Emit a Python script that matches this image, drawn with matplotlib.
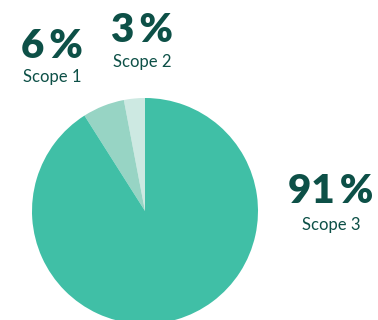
import matplotlib
matplotlib.use("Agg")
import matplotlib.pyplot as plt

# Emissões por escopo (%), na ordem em que as fatias aparecem a partir do topo
scopes = ["Scope 2", "Scope 1", "Scope 3"]
shares = [3, 6, 91]
colors = ["#CDE9E2", "#97D4C4", "#40BFA6"]
text_color = "#0D5047"

fig = plt.figure(figsize=(3.78, 3.2), dpi=100)
ax = fig.add_axes([0, 0, 1, 1])

ax.pie(shares, colors=colors, startangle=90, counterclock=True,
       center=(145, 109), radius=113, wedgeprops={"linewidth": 0})
ax.set_xlim(0, 378)
ax.set_ylim(0, 320)
ax.set_aspect("equal")
ax.axis("off")

# posição dos rótulos (x, baseline do número, baseline do nome)
label_pos = {"Scope 1": (52, 262, 238),
             "Scope 2": (142, 278, 253),
             "Scope 3": (331, 117, 90)}
for name, val in zip(scopes, shares):
    x, y_num, y_name = label_pos[name]
    ax.text(x, y_num, f"{val}\u2009%", ha="center", va="baseline", fontsize=29,
            fontweight="heavy", family=["Lato", "DejaVu Sans"], color=text_color)
    ax.text(x, y_name, name, ha="center", va="baseline", fontsize=12,
            family="Lato", color=text_color)

fig.savefig("out.png", dpi=100)
